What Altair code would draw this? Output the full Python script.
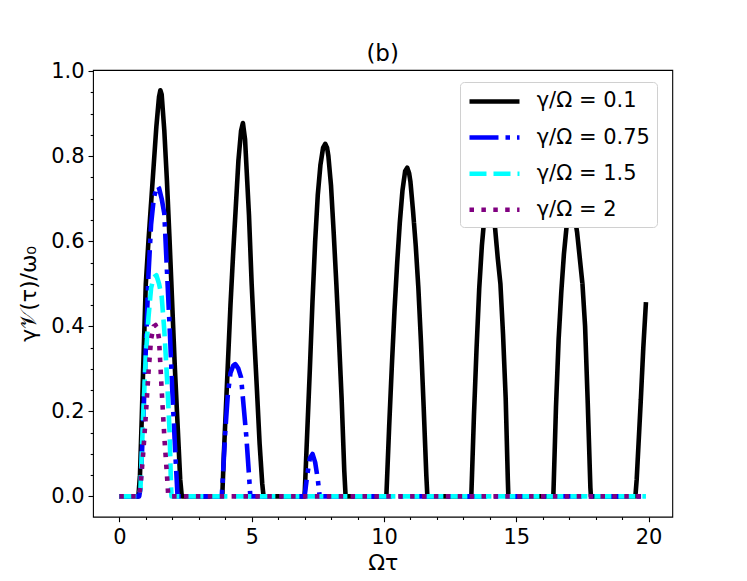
import altair as alt
import pandas as pd

# ---- data ----
series_names = ["γ/Ω = 0.1", "γ/Ω = 0.75", "γ/Ω = 1.5", "γ/Ω = 2"]
series_colors = ["#000000", "#0000ff", "#00ffff", "#800080"]
series_dashes = [[1, 0], [29, 7, 4.5, 7], [17, 7], [4.5, 7.4]]

black_x = [0, 0.72, 0.78, 0.85, 0.9, 1.0, 1.1, 1.2, 1.3, 1.4, 1.5, 1.55, 1.6, 1.7, 1.8, 1.9, 2.0, 2.1, 2.2, 2.3, 2.36,
           3.89, 3.95, 4.0, 4.1, 4.2, 4.3, 4.4, 4.5, 4.6, 4.67, 4.75, 4.8, 4.9, 5.0, 5.1, 5.2, 5.3, 5.4, 5.45,
           7.0, 7.1, 7.2, 7.3, 7.4, 7.5, 7.6, 7.7, 7.78, 7.85, 7.9, 8.0, 8.1, 8.2, 8.3, 8.4, 8.5, 8.55,
           10.09, 10.2, 10.3, 10.4, 10.5, 10.6, 10.7, 10.8, 10.88, 10.95, 11.0, 11.1, 11.2, 11.3, 11.4, 11.5, 11.6, 11.64,
           13.3, 13.4, 13.5, 13.6, 13.7, 13.8, 13.9, 13.97, 14.05, 14.1, 14.2, 14.3, 14.4, 14.5, 14.6, 14.68, 14.7,
           16.4, 16.5, 16.6, 16.7, 16.8, 16.9, 17.0, 17.09, 17.2, 17.3, 17.4, 17.5, 17.6, 17.7, 17.8, 17.82,
           19.5, 19.55, 19.7, 19.8, 19.9]
black_y = [0, 0, 0.05, 0.19, 0.30, 0.50, 0.60, 0.69, 0.78, 0.87, 0.94, 0.955, 0.945, 0.86, 0.74, 0.60, 0.45, 0.30, 0.17, 0.04, 0,
           0, 0.10, 0.17, 0.31, 0.45, 0.57, 0.68, 0.79, 0.86, 0.878, 0.84, 0.78, 0.66, 0.50, 0.37, 0.25, 0.125, 0.03, 0,
           0, 0.15, 0.30, 0.46, 0.60, 0.71, 0.78, 0.82, 0.829, 0.82, 0.80, 0.73, 0.62, 0.50, 0.37, 0.23, 0.06, 0,
           0, 0.17, 0.31, 0.44, 0.55, 0.645, 0.72, 0.765, 0.773, 0.76, 0.74, 0.67, 0.59, 0.49, 0.36, 0.21, 0.05, 0,
           0, 0.19, 0.35, 0.49, 0.59, 0.66, 0.705, 0.72, 0.71, 0.69, 0.63, 0.56, 0.50, 0.38, 0.23, 0.04, 0,
           0, 0.21, 0.37, 0.48, 0.57, 0.634, 0.665, 0.67, 0.66, 0.62, 0.56, 0.50, 0.40, 0.22, 0.02, 0,
           0, 0.04, 0.22, 0.35, 0.457]

blue_x = [0, 0.75, 0.8, 0.9, 1.0, 1.1, 1.2, 1.3, 1.4, 1.45, 1.5, 1.6, 1.7, 1.8, 1.9, 2.0, 2.1, 2.2,
          3.87, 3.9, 4.0, 4.1, 4.2, 4.3, 4.38, 4.45, 4.5, 4.6, 4.7, 4.8, 4.9, 4.95,
          7.0, 7.1, 7.2, 7.3, 7.4, 7.5, 7.57, 19.9]
blue_y = [0, 0, 0.02, 0.17, 0.345, 0.52, 0.64, 0.70, 0.725, 0.73, 0.725, 0.70, 0.665, 0.53, 0.40, 0.25, 0.12, 0,
          0, 0.03, 0.15, 0.24, 0.29, 0.307, 0.311, 0.305, 0.30, 0.28, 0.21, 0.14, 0.05, 0,
          0, 0.05, 0.09, 0.10, 0.08, 0.04, 0, 0]

cyan_x = [0, 0.75, 0.8, 0.9, 1.0, 1.1, 1.2, 1.3, 1.4, 1.5, 1.6, 1.7, 1.8, 1.9, 1.95, 1.97, 19.9]
cyan_y = [0, 0, 0.02, 0.19, 0.33, 0.42, 0.49, 0.515, 0.52, 0.50, 0.47, 0.39, 0.28, 0.15, 0.03, 0, 0]

purple_x = [0, 0.75, 0.8, 0.9, 1.0, 1.1, 1.2, 1.3, 1.37, 1.45, 1.5, 1.6, 1.7, 1.8, 1.85, 19.9]
purple_y = [0, 0, 0.025, 0.10, 0.19, 0.29, 0.37, 0.40, 0.403, 0.39, 0.37, 0.25, 0.14, 0.05, 0, 0]

x_ticks = list(range(0, 21))
y_ticks = [round(i * 0.05, 2) for i in range(0, 21)]

# ---- build table ----
frames = []
for name, xs, ys in zip(series_names,
                        [black_x, blue_x, cyan_x, purple_x],
                        [black_y, blue_y, cyan_y, purple_y]):
    frames.append(pd.DataFrame({"x": xs, "y": ys, "series": name}))
df = pd.concat(frames, ignore_index=True)

FONT = "DejaVu Sans"

x_enc = alt.X("x:Q",
              scale=alt.Scale(domain=[-0.995, 20.895], nice=False, zero=False),
              axis=alt.Axis(values=x_ticks, title="Ωτ",
                            labelExpr="datum.value % 5 === 0 ? datum.label : ''",
                            tickSize={"condition": {"test": "datum.value % 5 === 0", "value": 5}, "value": 2.8},
                            grid=False, domain=False, labelPadding=5, titlePadding=5))
y_enc = alt.Y("y:Q",
              scale=alt.Scale(domain=[-0.0477, 1.0027], nice=False, zero=False),
              axis=alt.Axis(values=y_ticks, title="γ𝒱(τ)/ω₀",
                            labelExpr="round(datum.value*100) % 20 === 0 ? format(datum.value, '.1f') : ''",
                            tickSize={"condition": {"test": "round(datum.value*100) % 20 === 0", "value": 5}, "value": 2.8},
                            grid=False, domain=False, labelPadding=4, titlePadding=10))

legend = alt.Legend(title=None, orient="none", legendX=367, legendY=12,
                    symbolType="M-2.5,0H2.5", symbolSize=400, symbolStrokeWidth=4.5,
                    symbolOffset=15,
                    labelFont=FONT, labelFontSize=21, labelColor="black", labelOffset=29.7,
                    fillColor="white", strokeColor="#d0d0d0", cornerRadius=4, padding=7,
                    rowPadding=13.1)

color_enc = alt.Color("series:N", scale=alt.Scale(domain=series_names, range=series_colors), legend=legend)
dash_enc = alt.StrokeDash("series:N", scale=alt.Scale(domain=series_names, range=series_dashes), legend=legend)

layers = []
for name in series_names:
    layers.append(
        alt.Chart(df).transform_filter(alt.datum.series == name)
        .mark_line(strokeWidth=4.6, strokeJoin="round")
        .encode(x=x_enc, y=y_enc, color=color_enc, strokeDash=dash_enc)
    )

chart = alt.layer(*layers).properties(
    width=579.3, height=446.7,
    background="white",
    title=alt.TitleParams("(b)", font=FONT, fontSize=23, fontWeight="normal", color="black",
                          offset=-29, baseline="bottom"),
    autosize=alt.AutoSizeParams(type="none"),
    padding={"left": 85, "top": 62, "right": 60, "bottom": 58},
).configure_view(stroke="black", strokeWidth=1.1).configure_axis(
    labelFont=FONT, labelFontSize=21, labelColor="black",
    titleFont=FONT, titleFontSize=22, titleFontWeight="normal", titleColor="black",
    tickColor="black", tickWidth=1.1,
)

chart.save("out.html", embed_options={"renderer": "svg", "actions": False})
